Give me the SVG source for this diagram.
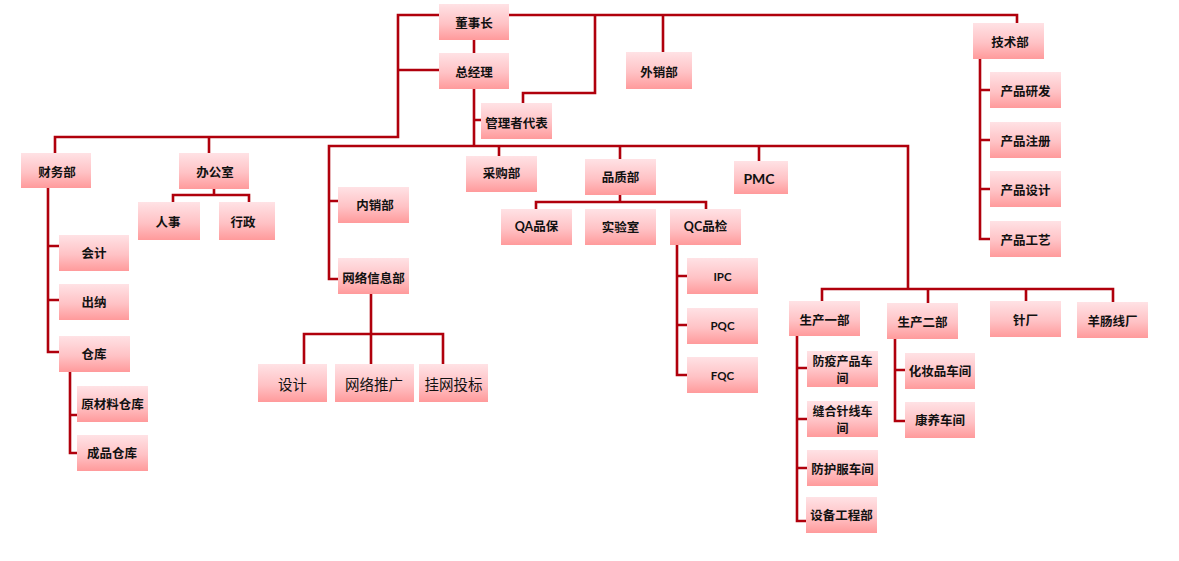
<svg xmlns="http://www.w3.org/2000/svg" width="1179" height="561" viewBox="0 0 1179 561">
<defs>
<linearGradient id="g" x1="0" y1="0" x2="0" y2="1">
<stop offset="0" stop-color="#ffe2e5"/>
<stop offset="0.55" stop-color="#ffc2c5"/>
<stop offset="1" stop-color="#ff9a9b"/>
</linearGradient>
</defs>
<style>
rect{fill:url(#g);}
text{font-family:"Noto Sans CJK SC","Liberation Sans",sans-serif;font-size:12.5px;font-weight:700;fill:#111;text-anchor:middle;dominant-baseline:central;}
.lat{font-family:Lato,"Noto Sans CJK SC",sans-serif;}
.reg{font-weight:400;font-size:14.5px;}
.w{font-size:12px;}
.c path{fill:none;stroke:#b0000c;stroke-width:2.6;stroke-linejoin:miter;stroke-linecap:butt;}
</style>
<rect x="0" y="0" width="1179" height="561" style="fill:#fff"/>
<g class="c" id="connectors">
<path d="M439,15H398V137H55V153M209,137V153"/>
<path d="M439,70H398"/>
<path d="M509,15H1017V23"/>
<path d="M474,40V53"/>
<path d="M595,15V93H523V103"/>
<path d="M663,15V52"/>
<path d="M474,89V146M474,120H481"/>
<path d="M338,279H329V146H908V289M329,201H338"/>
<path d="M499,146V156M620,146V159M759,146V161"/>
<path d="M620,195V202M536,209V202H706V209"/>
<path d="M677,245V375H687M677,276H687M677,325H687"/>
<path d="M371,294V364M304,364V334H443V364"/>
<path d="M214,189V195M173,202V195H249V202"/>
<path d="M48,188V352H59M48,246H59M48,300H59"/>
<path d="M70,372V453H77M70,415H77"/>
<path d="M980,59V239H990M980,90H990M980,140H990M980,189H990"/>
<path d="M822,301V289H1113V302M928,289V303M1026,289V301"/>
<path d="M797,336V521H806M797,368H807M797,419H807M797,468H807"/>
<path d="M895,339V421H905M895,370H905"/>
</g>
<g id="n-dsz"><rect x="439" y="4" width="70" height="36"/><text x="474" y="22">董事长</text></g>
<g id="n-zjl"><rect x="439" y="53" width="70" height="36"/><text x="474" y="71">总经理</text></g>
<g id="n-wxb"><rect x="626" y="52" width="66" height="37"/><text x="659" y="71">外销部</text></g>
<g id="n-gldb"><rect x="481" y="103" width="71" height="36"/><text x="516.5" y="122">管理者代表</text></g>
<g id="n-jsb"><rect x="973" y="23" width="71" height="36"/><text x="1010" y="41">技术部</text></g>
<g id="n-cpyf"><rect x="990" y="72" width="71" height="36"/><text x="1025.5" y="90">产品研发</text></g>
<g id="n-cpzc"><rect x="990" y="122" width="71" height="36"/><text x="1025.5" y="140">产品注册</text></g>
<g id="n-cpsj"><rect x="990" y="171" width="71" height="36"/><text x="1025.5" y="189">产品设计</text></g>
<g id="n-cpgy"><rect x="990" y="221" width="71" height="36"/><text x="1025.5" y="239">产品工艺</text></g>
<g id="n-cwb"><rect x="21" y="153" width="70" height="35"/><text x="57" y="171">财务部</text></g>
<g id="n-bgs"><rect x="179" y="153" width="70" height="36"/><text x="215" y="171">办公室</text></g>
<g id="n-rs"><rect x="138" y="202" width="62" height="38"/><text x="168" y="221">人事</text></g>
<g id="n-xz"><rect x="219" y="202" width="56" height="38"/><text x="243" y="221">行政</text></g>
<g id="n-kj"><rect x="59" y="235" width="70" height="36"/><text x="94" y="252">会计</text></g>
<g id="n-cn"><rect x="59" y="284" width="70" height="36"/><text x="94" y="301">出纳</text></g>
<g id="n-ck"><rect x="59" y="336" width="71" height="36"/><text x="94" y="353">仓库</text></g>
<g id="n-ycl"><rect x="77" y="386" width="71" height="36"/><text x="112.5" y="403">原材料仓库</text></g>
<g id="n-cpck"><rect x="77" y="435" width="71" height="36"/><text x="112" y="452">成品仓库</text></g>
<g id="n-nxb"><rect x="338" y="187" width="71" height="36"/><text x="375" y="204">内销部</text></g>
<g id="n-wlxx"><rect x="338" y="258" width="71" height="36"/><text x="373.5" y="277">网络信息部</text></g>
<g id="n-sj"><rect x="258" y="364" width="69" height="38"/><text class="reg" x="292.5" y="383">设计</text></g>
<g id="n-wltg"><rect x="335" y="364" width="79" height="38"/><text class="reg" x="374" y="383">网络推广</text></g>
<g id="n-gwtb"><rect x="419" y="364" width="69" height="38"/><text class="reg" x="453.5" y="383">挂网投标</text></g>
<g id="n-cgb"><rect x="466" y="156" width="71" height="36"/><text x="501.5" y="172">采购部</text></g>
<g id="n-pzb"><rect x="585" y="159" width="71" height="36"/><text x="620.5" y="176">品质部</text></g>
<g id="n-pmc"><rect x="734" y="161" width="54" height="33"/><text class="lat" x="759" y="178" style="font-size:14px">PMC</text></g>
<g id="n-qa"><rect x="501" y="209" width="71" height="36"/><text class="lat" x="536.5" y="226">QA品保</text></g>
<g id="n-sys"><rect x="585" y="209" width="71" height="36"/><text x="620.5" y="226">实验室</text></g>
<g id="n-qc"><rect x="670" y="209" width="71" height="36"/><text class="lat" x="705.5" y="226">QC品检</text></g>
<g id="n-ipc"><rect x="687" y="258" width="71" height="36"/><text class="lat" x="722.5" y="276" style="font-size:11.5px">IPC</text></g>
<g id="n-pqc"><rect x="687" y="308" width="71" height="36"/><text class="lat" x="722.5" y="325" style="font-size:11.5px">PQC</text></g>
<g id="n-fqc"><rect x="687" y="357" width="71" height="36"/><text class="lat" x="722.5" y="375" style="font-size:11.5px">FQC</text></g>
<g id="n-sc1"><rect x="789" y="301" width="71" height="35"/><text x="824.5" y="319">生产一部</text></g>
<g id="n-sc2"><rect x="887" y="303" width="71" height="36"/><text x="922.5" y="321">生产二部</text></g>
<g id="n-zc"><rect x="990" y="301" width="71" height="36"/><text x="1025.5" y="319">针厂</text></g>
<g id="n-ycx"><rect x="1077" y="302" width="71" height="36"/><text x="1112.5" y="320">羊肠线厂</text></g>
<g id="n-fy"><rect x="807" y="351" width="71" height="36"/><text class="w" x="842.5" y="360">防疫产品车</text><text class="w" x="842.5" y="377.5">间</text></g>
<g id="n-fh"><rect x="807" y="401" width="71" height="36"/><text class="w" x="842.5" y="410">缝合针线车</text><text class="w" x="842.5" y="427.5">间</text></g>
<g id="n-fhf"><rect x="807" y="450" width="71" height="36"/><text x="842.5" y="468">防护服车间</text></g>
<g id="n-sbgc"><rect x="806" y="497" width="71" height="36"/><text x="841.5" y="514">设备工程部</text></g>
<g id="n-hzp"><rect x="905" y="353" width="70" height="36"/><text x="940" y="370">化妆品车间</text></g>
<g id="n-ky"><rect x="905" y="402" width="70" height="36"/><text x="940" y="419">康养车间</text></g>
</svg>
